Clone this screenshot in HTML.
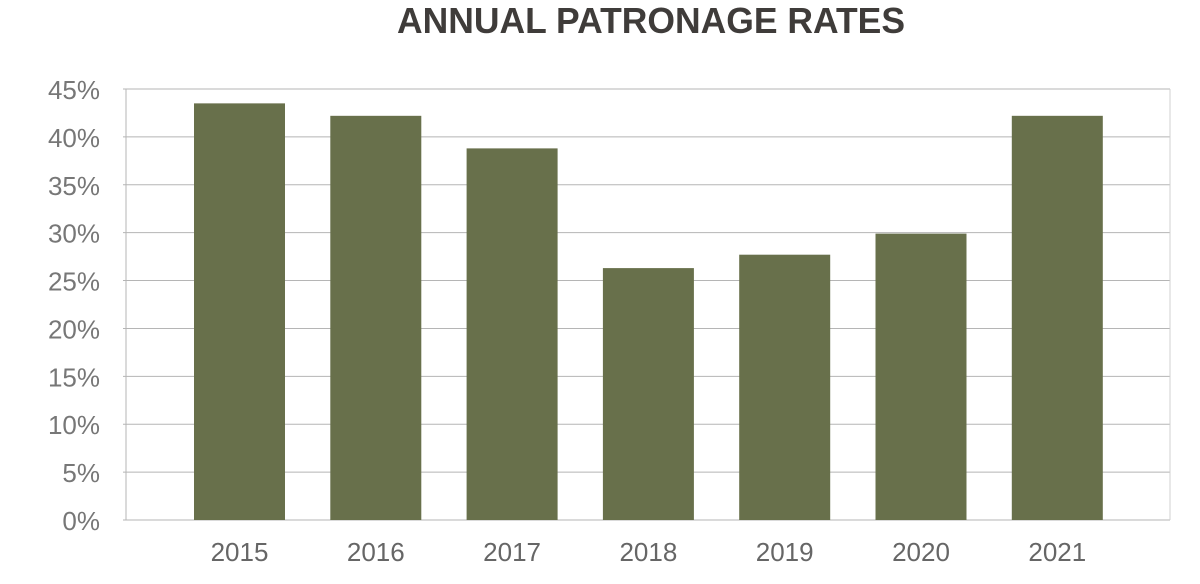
<!DOCTYPE html>
<html><head><meta charset="utf-8"><style>
body{margin:0;background:#fff;width:1200px;height:584px;overflow:hidden}
svg{display:block}
</style></head><body>
<svg id="chart" width="1200" height="584" xmlns="http://www.w3.org/2000/svg">
<text x="651" y="33" text-anchor="middle" font-family="Liberation Sans, sans-serif" font-weight="bold" font-size="36" fill="#3f3c3a" textLength="508" lengthAdjust="spacingAndGlyphs">ANNUAL PATRONAGE RATES</text>
<g id="grid"></g><g id="bars"></g><g id="xlabels"></g>
</svg>
<script>
const categories=["2015","2016","2017","2018","2019","2020","2021"];
const values=[43.5,42.2,38.8,26.3,27.7,29.9,42.2];
const ticks=[0,5,10,15,20,25,30,35,40,45];
const tickLabels=["0%","5%","10%","15%","20%","25%","30%","35%","40%","45%"];
const NS="http://www.w3.org/2000/svg";
const y0=520,y45=89,left=126,right=1170;
function y(v){return y0-(v/45)*(y0-y45);}
function xc(i){return 239.5+i*136.3;}
function mk(t,a,p){const e=document.createElementNS(NS,t);for(const k in a)e.setAttribute(k,a[k]);p.appendChild(e);return e;}
const grid=document.getElementById('grid');
ticks.forEach((t,i)=>{
  const l=mk('line',{x1:left-3,x2:right,y1:y(t),y2:y(t),stroke:'#b5b5b5','stroke-width':1},grid);
  
  
  const tx=mk('text',{x:100,y:y(t)+10,'text-anchor':'end','font-family':'Liberation Sans, sans-serif','font-size':26,fill:'#777'},grid);
  tx.textContent=tickLabels[i];
  
  
});
const ax=mk('line',{x1:left,x2:left,y1:y45,y2:y0,stroke:'#b5b5b5','stroke-width':1},grid);


const ax2=mk('line',{x1:right,x2:right,y1:y45,y2:y0,stroke:'#d0d0d0','stroke-width':1},grid);


const bars=document.getElementById('bars'),xl=document.getElementById('xlabels');
categories.forEach((c,i)=>{
  const r=mk('rect',{x:xc(i)-45.5,y:y(values[i]),width:91,height:y0-y(values[i]),fill:'#68704b'},bars);
  
  
  const t=mk('text',{x:xc(i),y:561,'text-anchor':'middle','font-family':'Liberation Sans, sans-serif','font-size':26,fill:'#666'},xl);
  t.textContent=c;
  
  
});
</script>
</body></html>
